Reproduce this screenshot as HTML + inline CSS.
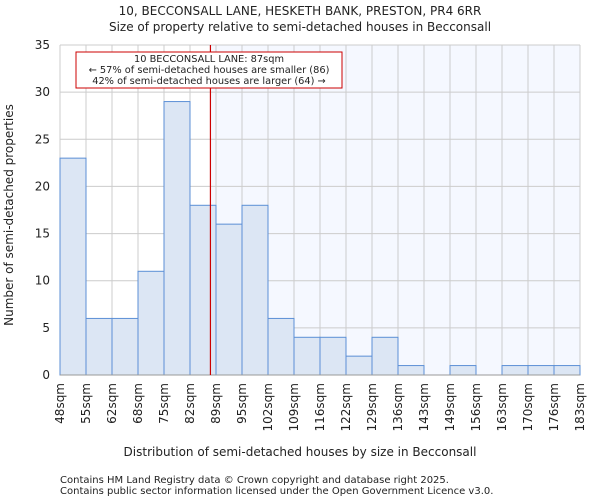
<!DOCTYPE html>
<html><head><meta charset="utf-8"><style>
body{margin:0;background:#fff;font-family:"DejaVu Sans","Liberation Sans",sans-serif;}
svg text{font-family:"DejaVu Sans","Liberation Sans",sans-serif;fill:#222;}
</style></head><body>
<svg id="chart" width="600" height="500" xmlns="http://www.w3.org/2000/svg">
<text x="300" y="15" font-size="12" text-anchor="middle">10, BECCONSALL LANE, HESKETH BANK, PRESTON, PR4 6RR</text>
<text x="300" y="31" font-size="12" text-anchor="middle">Size of property relative to semi-detached houses in Becconsall</text>
<g id="plot"></g>
<text x="300" y="456" font-size="12" text-anchor="middle">Distribution of semi-detached houses by size in Becconsall</text>
<text transform="translate(13,215) rotate(-90)" font-size="12" text-anchor="middle">Number of semi-detached properties</text>
<text x="60" y="483" font-size="10">Contains HM Land Registry data © Crown copyright and database right 2025.</text>
<text x="60" y="494" font-size="10">Contains public sector information licensed under the Open Government Licence v3.0.</text>
</svg>
<script>
const binLabels=["48sqm","55sqm","62sqm","68sqm","75sqm","82sqm","89sqm","95sqm","102sqm","109sqm","116sqm","122sqm","129sqm","136sqm","143sqm","149sqm","156sqm","163sqm","170sqm","176sqm","183sqm"];
const binEdges=[48,55,62,68,75,82,89,95,102,109,116,122,129,136,143,149,156,163,170,176,183];
const counts=[23,6,6,11,29,18,16,18,6,4,4,2,4,1,0,1,0,1,1,1];
const yTicks=[0,5,10,15,20,25,30,35];
const markerValue=87.5;
const X0=60,X1=580,Y0=375,Y1=45,YMAX=35;
const n=counts.length,bw=(X1-X0)/n;
const xi=i=>X0+i*bw;
const y=v=>Y0-(v/YMAX)*(Y0-Y1);
function xv(v){let i=0;while(i<n-1&&v>binEdges[i+1])i++;return xi(i)+(v-binEdges[i])/(binEdges[i+1]-binEdges[i])*bw;}
const NS="http://www.w3.org/2000/svg",g=document.getElementById("plot");
function mk(t,a){const e=document.createElementNS(NS,t);for(const k in a)e.setAttribute(k,a[k]);g.appendChild(e);return e;}
const mx=xv(markerValue);
let e=mk("rect",{x:mx,y:Y1,width:X1-mx,height:Y0-Y1,fill:"#f5f8ff"});


yTicks.forEach(t=>{
 let l=mk("line",{x1:X0,x2:X1,y1:y(t),y2:y(t),stroke:"#cccccc","stroke-width":1});
 
 
 let tx=mk("text",{x:X0-10,y:y(t)+4,"font-size":12,"text-anchor":"end"});tx.textContent=t;
 
 
});
binLabels.forEach((s,i)=>{
 let l=mk("line",{x1:xi(i),x2:xi(i),y1:Y1,y2:Y0,stroke:"#cccccc","stroke-width":1});
 
 
 let tx=mk("text",{transform:`translate(${xi(i)+4},${Y0+8}) rotate(-90)`,"font-size":12,"text-anchor":"end"});tx.textContent=s;
 
 
});
counts.forEach((c,i)=>{
 if(c<=0)return;
 let r=mk("rect",{x:xi(i),y:y(c),width:bw,height:Y0-y(c),fill:"#dce6f4",stroke:"#5b8fd6","stroke-width":1});
 
 
});
let ax=mk("line",{x1:X0,x2:X1,y1:Y0,y2:Y0,stroke:"#999","stroke-width":1});


let ml=mk("line",{x1:mx,x2:mx,y1:Y1,y2:Y0,stroke:"#cc0000","stroke-width":1.2});


let box=mk("rect",{x:76,y:52,width:266,height:36,fill:"#fff",stroke:"#cc0000","stroke-width":1});


["10 BECCONSALL LANE: 87sqm","← 57% of semi-detached houses are smaller (86)","42% of semi-detached houses are larger (64) →"].forEach((s,k)=>{
 let t=mk("text",{x:209,y:62+k*11,"font-size":9.8,"text-anchor":"middle"});t.textContent=s;
 
 
});
</script>
</body></html>
